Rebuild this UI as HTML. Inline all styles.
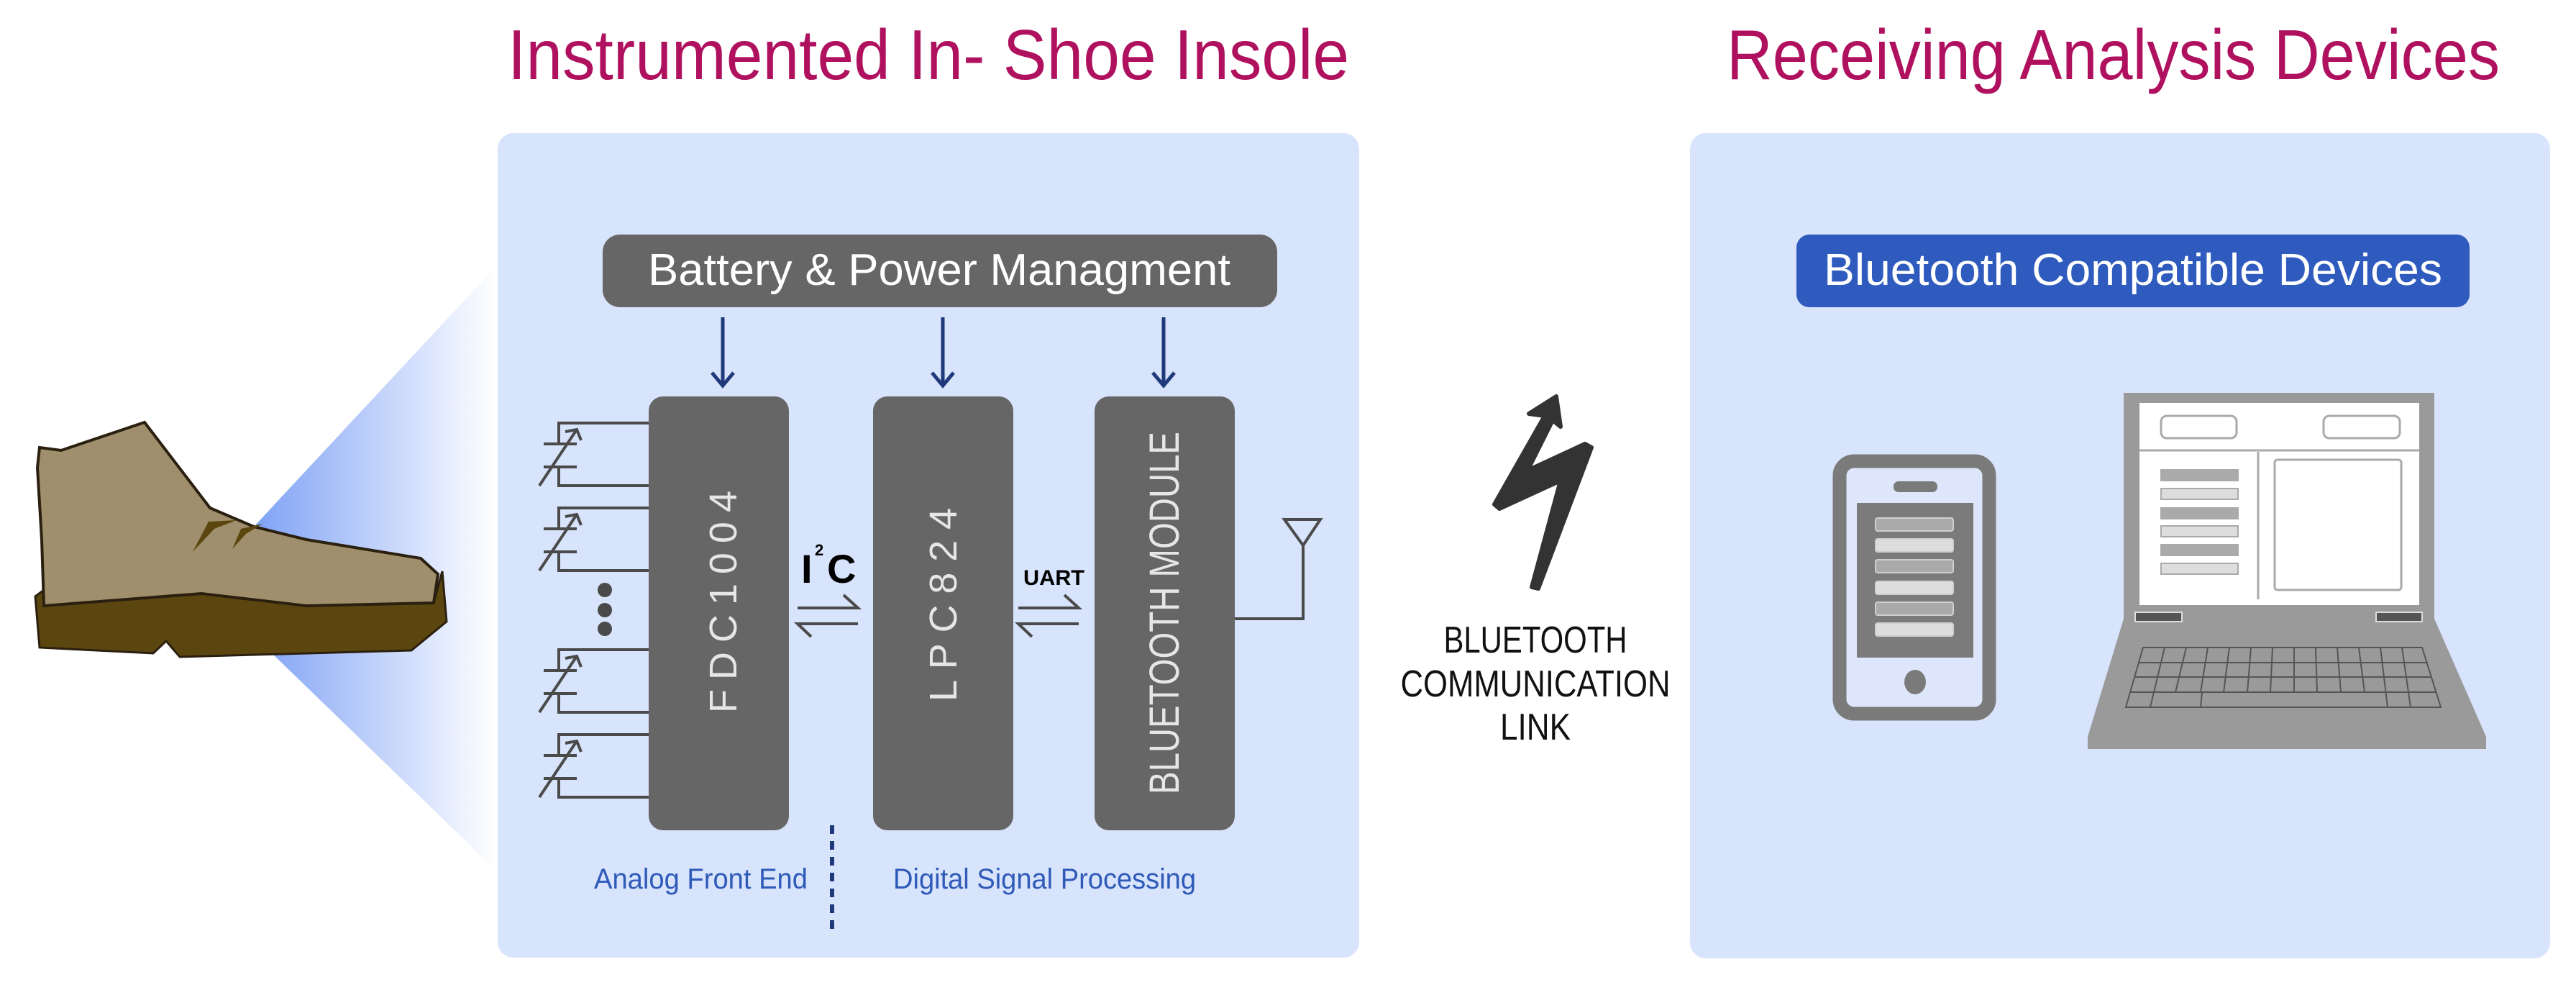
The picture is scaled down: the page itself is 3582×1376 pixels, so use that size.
<!DOCTYPE html>
<html><head><meta charset="utf-8"><style>
html,body{margin:0;padding:0;background:#fff;}
svg{display:block;}
text{font-family:"Liberation Sans",sans-serif;}
</style></head><body>
<svg width="3582" height="1376" viewBox="0 0 3582 1376" xmlns="http://www.w3.org/2000/svg">
<defs>
<linearGradient id="beam" x1="0" y1="0" x2="1" y2="0">
<stop offset="0" stop-color="#7fa2f5"/><stop offset="1" stop-color="#ffffff"/>
</linearGradient>
</defs>
<!-- titles -->
<text x="706" y="110" font-size="98" fill="#b0115f" textLength="1170" lengthAdjust="spacingAndGlyphs">Instrumented In- Shoe Insole</text>
<text x="2401" y="110" font-size="98" fill="#b0115f" textLength="1075" lengthAdjust="spacingAndGlyphs">Receiving Analysis Devices</text>

<!-- beam -->
<polygon points="353,732 690,370 690,1210 378,908" fill="url(#beam)"/>

<!-- panels -->
<rect x="692" y="185" width="1198" height="1146" rx="22" fill="#d8e3fc"/>
<rect x="2350" y="185" width="1196" height="1147" rx="22" fill="#d8e3fc"/>

<!-- shoe -->
<path d="M61,820 L280,825 L426,842 L603,838 L615,794 L621,864 L572,904 L250,913 L231,891 L213,908 L55,900 L49,829 Z" fill="#5c460f" stroke="#2b2010" stroke-width="3"/>
<path d="M55,622 L85,626 L201,587 L292,706 L353,732 L426,750 L585,776 L609,798 L603,838 L426,842 L280,825 L61,842 L58,750 L52,650 Z" fill="#9f8f6c" stroke="#2b2010" stroke-width="4"/>
<path d="M268,767 L290,725 L329,723 L298,735 Z" fill="#5c460f"/>
<path d="M323,763 L335,735 L365,728 L342,742 Z" fill="#5c460f"/>

<!-- battery box -->
<rect x="838" y="326" width="938" height="101" rx="24" fill="#666"/>
<text x="901" y="396" font-size="62" fill="#fff" textLength="810" lengthAdjust="spacingAndGlyphs">Battery &amp; Power Managment</text>

<!-- arrows -->
<g stroke="#1f3a7a" stroke-width="5" fill="none">
<line x1="1005" y1="441" x2="1005" y2="536"/><polyline points="990,518 1005,536 1020,518"/>
<line x1="1311" y1="441" x2="1311" y2="536"/><polyline points="1296,518 1311,536 1326,518"/>
<line x1="1618" y1="441" x2="1618" y2="536"/><polyline points="1603,518 1618,536 1633,518"/>
</g>

<!-- blocks -->
<rect x="902" y="551" width="195" height="603" rx="20" fill="#666"/>
<rect x="1214" y="551" width="195" height="603" rx="20" fill="#666"/>
<rect x="1522" y="551" width="195" height="603" rx="20" fill="#666"/>
<text transform="translate(1024,991) rotate(-90)" font-size="54" fill="#e6e6e6" textLength="309" lengthAdjust="spacing">FDC1004</text>
<text transform="translate(1330,975) rotate(-90)" font-size="54" fill="#e6e6e6" textLength="269" lengthAdjust="spacing">LPC824</text>
<text transform="translate(1639,1104) rotate(-90)" font-size="58" fill="#e6e6e6" textLength="504" lengthAdjust="spacingAndGlyphs">BLUETOOTH  MODULE</text>

<!-- sensors -->
<g stroke="#4a4a4a" stroke-width="4" fill="none">
<g id="s1">
<polyline points="902,588 777,588 777,617"/>
<polyline points="902,675 777,675 777,649"/>
<line x1="756" y1="617" x2="802" y2="617"/>
<line x1="756" y1="649" x2="802" y2="649"/>
<line x1="750" y1="675" x2="802" y2="597"/>
<polyline points="786,600 802,597 808,612"/>
</g>
<use href="#s1" transform="translate(0,118)"/>
<use href="#s1" transform="translate(0,315)"/>
<use href="#s1" transform="translate(0,433)"/>
</g>
<g fill="#4a4a4a">
<circle cx="841" cy="820" r="10"/><circle cx="841" cy="848" r="10"/><circle cx="841" cy="874" r="10"/>
</g>

<!-- I2C -->
<text x="1114" y="810" font-size="56" font-weight="bold" fill="#000">I</text>
<text x="1133" y="772" font-size="22" font-weight="bold" fill="#000">2</text>
<text x="1150" y="810" font-size="56" font-weight="bold" fill="#000">C</text>
<g stroke="#4a4a4a" stroke-width="4" fill="none">
<polyline points="1109,845 1193,845 1173,827"/>
<polyline points="1193,867 1109,867 1128,885"/>
<polyline points="1416,845 1500,845 1480,827"/>
<polyline points="1500,867 1416,867 1435,885"/>
</g>
<text x="1423" y="813" font-size="30" font-weight="bold" fill="#000" textLength="85" lengthAdjust="spacingAndGlyphs">UART</text>

<!-- antenna -->
<g stroke="#4a4a4a" stroke-width="4" fill="none">
<polyline points="1717,860 1812,860 1812,758"/>
<polygon points="1786,722 1836,722 1812,758"/>
</g>

<!-- dashed divider -->
<line x1="1157" y1="1147" x2="1157" y2="1297" stroke="#1f3a7a" stroke-width="6" stroke-dasharray="12,10"/>
<text x="826" y="1235" font-size="40" fill="#2e5ab8" textLength="297" lengthAdjust="spacingAndGlyphs">Analog Front End</text>
<text x="1242" y="1235" font-size="40" fill="#2e5ab8" textLength="421" lengthAdjust="spacingAndGlyphs">Digital Signal Processing</text>

<!-- lightning -->
<polygon points="2164,551 2126,575 2148,578 2078,701 2085,707 2170,668 2130,816 2139,818 2213,622 2204,617 2124,654 2159,584 2170,593" fill="#333" stroke="#333" stroke-width="6" stroke-linejoin="round"/>
<g font-size="52" fill="#111" text-anchor="middle">
<text x="2135" y="907" textLength="255" lengthAdjust="spacingAndGlyphs">BLUETOOTH</text>
<text x="2135" y="968" textLength="375" lengthAdjust="spacingAndGlyphs">COMMUNICATION</text>
<text x="2135" y="1028" textLength="98" lengthAdjust="spacingAndGlyphs">LINK</text>
</g>

<!-- blue header -->
<rect x="2498" y="326" width="936" height="101" rx="18" fill="#2e5bbd"/>
<text x="2536" y="396" font-size="62" fill="#fff" textLength="860" lengthAdjust="spacingAndGlyphs">Bluetooth Compatible Devices</text>

<!-- phone -->
<rect x="2558" y="641" width="208" height="351" rx="20" fill="#dde6fb" stroke="#7a7a7a" stroke-width="19"/>
<rect x="2633" y="669" width="61" height="15" rx="7" fill="#7a7a7a"/>
<rect x="2582" y="699" width="162" height="215" fill="#7b7b7b"/>
<g stroke="#cfcfcf" stroke-width="2">
<rect x="2608" y="720" width="108" height="18" rx="3" fill="#aaa"/>
<rect x="2608" y="749" width="108" height="18" rx="3" fill="#ddd"/>
<rect x="2608" y="778" width="108" height="18" rx="3" fill="#aaa"/>
<rect x="2608" y="808" width="108" height="18" rx="3" fill="#ddd"/>
<rect x="2608" y="837" width="108" height="18" rx="3" fill="#aaa"/>
<rect x="2608" y="866" width="108" height="18" rx="3" fill="#ddd"/>
</g>
<ellipse cx="2663" cy="948" rx="15" ry="17" fill="#7a7a7a"/>

<!-- laptop -->
<polygon points="2953,860 3385,860 3457,1024 3457,1041 2903,1041 2903,1024" fill="#9a9a9a"/>
<rect x="2953" y="546" width="432" height="314" fill="#9a9a9a"/>
<rect x="2975" y="560" width="389" height="281" fill="#fff"/>
<line x1="2975" y1="626" x2="3364" y2="626" stroke="#aaa" stroke-width="3"/>
<line x1="3140" y1="628" x2="3140" y2="833" stroke="#aaa" stroke-width="3"/>
<rect x="3005" y="578" width="105" height="31" rx="8" fill="#fff" stroke="#aaa" stroke-width="3"/>
<rect x="3231" y="578" width="106" height="31" rx="8" fill="#fff" stroke="#aaa" stroke-width="3"/>
<rect x="3163" y="639" width="176" height="181" rx="4" fill="#fff" stroke="#aaa" stroke-width="3"/>
<g stroke="#aaa" stroke-width="2">
<rect x="3005" y="653" width="107" height="15" fill="#aaa"/>
<rect x="3005" y="679" width="107" height="15" fill="#ddd"/>
<rect x="3005" y="706" width="107" height="15" fill="#aaa"/>
<rect x="3005" y="731" width="107" height="15" fill="#ddd"/>
<rect x="3005" y="757" width="107" height="15" fill="#aaa"/>
<rect x="3005" y="783" width="107" height="15" fill="#ddd"/>
</g>
<rect x="2969" y="851" width="65" height="13" fill="#555" stroke="#ddd" stroke-width="2"/>
<rect x="3304" y="851" width="64" height="13" fill="#555" stroke="#ddd" stroke-width="2"/>
<g stroke="#555" stroke-width="2" fill="none">
<polygon points="2980,900 3368,900 3394,983 2956,983"/>
<line x1="2974" y1="921" x2="3375" y2="921"/>
<line x1="2968" y1="941" x2="3381" y2="941"/>
<line x1="2962" y1="962" x2="3388" y2="962"/>
<path d="M3010,900 L2990,983 M3040,900 L3025,962 M3070,900 L3060,962 M3100,900 L3092,962 M3130,900 L3125,962 M3160,900 L3157,962 M3190,900 L3190,962 M3220,900 L3222,962 M3250,900 L3255,962 M3280,900 L3288,962 M3310,900 L3320,983 M3340,900 L3352,983 M3062,962 L3060,983"/>
</g>
</svg>
</body></html>
